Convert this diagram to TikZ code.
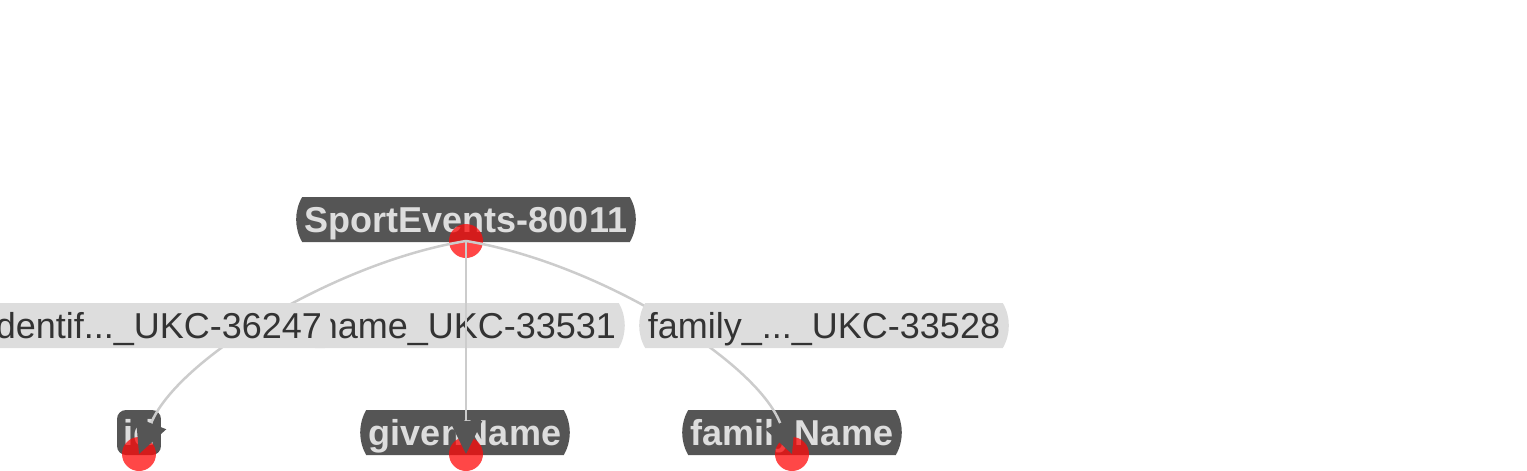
\documentclass[tikz,border=0pt]{standalone}
\usepackage{fontspec}
\setmainfont{Liberation Sans}
\usetikzlibrary{arrows.meta,shapes.misc}
\definecolor{boxgray}{HTML}{555555}
\definecolor{paleboxgray}{HTML}{DDDDDD}
\definecolor{edgegray}{HTML}{CCCCCC}
\definecolor{labeltext}{HTML}{333333}
\definecolor{dotred}{RGB}{255,10,10}

\begin{document}
\begin{tikzpicture}[x=1pt,y=-1pt,
    every node/.style={font=\fontsize{36pt}{42pt}\selectfont},
    entity/.style={rounded rectangle, rounded rectangle arc length=60,
        fill=boxgray, text=paleboxgray, font=\fontsize{36pt}{42pt}\selectfont\bfseries,
        inner xsep=7pt, inner ysep=0pt, minimum height=45pt,
        text height=25pt, text depth=0pt},
    edgelabel/.style={rounded rectangle, rounded rectangle arc length=60,
        fill=paleboxgray, text=labeltext,
        inner xsep=7pt, inner ysep=0pt, minimum height=45pt,
        text height=25pt, text depth=0pt},
    dot/.style={circle, fill=dotred, fill opacity=0.75, minimum size=34pt, inner sep=0pt},
    edge/.style={draw=edgegray, line width=2.5pt,
        -{Triangle[length=33pt,width=32pt,color=boxgray]}}]
    \useasboundingbox (0,0) rectangle (1527,471);
    \clip (0,0) rectangle (1527,471);

    % Entity nodes
    \node[entity] (ev) at (466,219.5) {SportEvents-80011};
    \node[entity, shape=rectangle, rounded corners=9pt, inner xsep=6pt] (idn) at (139,432.5) {id};
    \node[entity] (given) at (465,432.5) {givenName};
    \node[entity] (family) at (792,432.5) {familyName};

    % Anchor dots
    \node[dot] (evdot) at (466,241) {};
    \node[dot] (iddot) at (139,454) {};
    \node[dot] (givendot) at (466,454) {};
    \node[dot] (familydot) at (792,454) {};

    % Label behind the straight edge
    \node[edgelabel, anchor=east] (lbgiven) at (625,325.5) {name\_UKC-33531};

    % Edges
    \draw[edge] (evdot.center) .. controls (336,262) and (176,360) .. (iddot.center);
    \draw[edge] (evdot.center) -- (givendot.center);
    \draw[edge] (evdot.center) .. controls (596,262) and (756,360) .. (familydot.center);

    % Labels over the curved edges
    \node[edgelabel, anchor=east] (lbid) at (331,325.5) {identif...\_UKC-36247};
    \node[edgelabel] (lbfamily) at (824,325.5) {family\_...\_UKC-33528};
\end{tikzpicture}
\end{document}
